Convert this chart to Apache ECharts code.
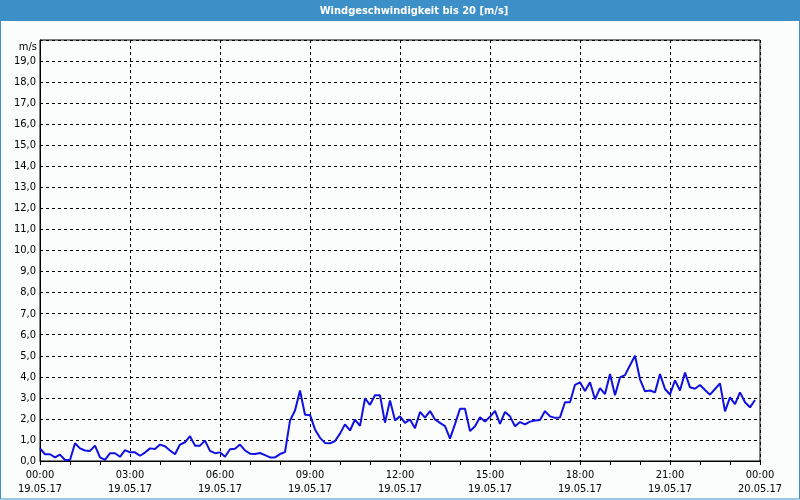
<!DOCTYPE html>
<html>
<head>
<meta charset="utf-8">
<script src="https://cdn.jsdelivr.net/npm/echarts@6/dist/echarts.min.js"></script>
<style>
html,body{margin:0;padding:0;background:#fbfcfc;}
#chart{width:800px;height:500px;}
</style>
</head>
<body>
<div id="chart"></div>
<script>
const titleText = 'Windgeschwindigkeit bis 20 [m/s]';
const unitLabel = 'm/s';
const stepMinutes = 10;
const xTickTimes = ['00:00','03:00','06:00','09:00','12:00','15:00','18:00','21:00','00:00'];
const xTickDates = ['19.05.17','19.05.17','19.05.17','19.05.17','19.05.17','19.05.17','19.05.17','19.05.17','20.05.17'];
const windSpeed = [
  0.6,0.32,0.32,0.17,0.3,0.05,0.05,0.84,0.6,0.5,0.48,0.73,0.17,0.05,0.37,0.37,0.2,0.52,0.41,0.41,0.25,
  0.4,0.6,0.57,0.78,0.7,0.5,0.32,0.78,0.89,1.18,0.73,0.73,0.97,0.48,0.37,0.41,0.2,0.56,0.58,0.78,
  0.5,0.35,0.33,0.38,0.28,0.17,0.17,0.33,0.42,1.92,2.4,3.35,2.2,2.19,1.5,1.1,0.86,0.84,0.95,1.3,1.74,
  1.45,1.97,1.67,2.97,2.67,3.12,3.12,1.82,2.88,1.93,2.12,1.81,1.97,1.56,2.33,2.06,2.37,1.97,1.81,1.66,
  1.06,1.75,2.48,2.48,1.42,1.65,2.08,1.88,2.1,2.38,1.76,2.33,2.12,1.65,1.85,1.74,1.87,1.92,1.95,2.37,2.12,
  2.05,2.07,2.79,2.79,3.62,3.74,3.32,3.74,2.93,3.46,3.18,4.13,3.12,3.97,4.08,4.55,5.0,3.88,3.31,3.35,
  3.26,4.13,3.42,3.16,3.83,3.35,4.2,3.5,3.43,3.61,3.37,3.15,3.42,3.69,2.36,3.02,2.7,3.26,2.79,2.55,2.9
];

const FONT = '"DejaVu Sans Condensed", "DejaVu Sans", sans-serif';
const chart = echarts.init(document.getElementById('chart'), null, {renderer: 'canvas'});
chart.setOption({
  backgroundColor: '#fbfcfc',
  animation: false,
  grid: {left: 40, right: 40, top: 40, bottom: 39, show: true, borderColor: '#000', borderWidth: 1, backgroundColor: 'transparent'},
  graphic: [
    {type: 'rect', left: 0, top: 0, shape: {width: 800, height: 21}, style: {fill: '#3d8fc8'}, z: 0},
    {type: 'text', x: 414, y: 11, style: {text: titleText, fill: '#ffffff', font: 'bold 11px ' + FONT, align: 'center', verticalAlign: 'middle'}, z: 10},
    {type: 'text', x: 37, y: 47, style: {text: unitLabel, fill: '#000', font: '11px ' + FONT, align: 'right', verticalAlign: 'middle'}, z: 10},
    {type: 'rect', shape: {x: 0.5, y: 0.5, width: 799, height: 498.5}, style: {fill: 'none', stroke: '#3d8fc8', lineWidth: 1}, z: 20}
  ],
  xAxis: {
    type: 'value', min: 0, max: 1440, interval: 180,
    axisLine: {show: true, lineStyle: {color: '#000', width: 1}},
    axisTick: {show: true, length: 4, lineStyle: {color: '#000'}},
    minorTick: {show: true, splitNumber: 3, length: 4, lineStyle: {color: '#000'}},
    splitLine: {show: true, lineStyle: {color: '#000', type: [3, 3], width: 1}},
    axisLabel: {
      margin: 7, color: '#000', fontFamily: FONT, fontSize: 11, lineHeight: 14,
      formatter: v => { const k = Math.round(v / 180); return xTickTimes[k] + '\n' + xTickDates[k]; }
    }
  },
  yAxis: {
    type: 'value', min: 0, max: 20, interval: 1,
    axisLine: {show: true, lineStyle: {color: '#000', width: 1}},
    axisTick: {show: false},
    splitLine: {show: true, lineStyle: {color: '#000', type: [3, 3], width: 1}},
    axisLabel: {
      margin: 4, color: '#000', fontFamily: FONT, fontSize: 11,
      formatter: v => v >= 20 ? '' : v.toFixed(1).replace('.', ',')
    }
  },
  series: [{
    type: 'line',
    data: windSpeed.map((v, i) => [i * stepMinutes, v]),
    showSymbol: false,
    lineStyle: {color: '#1010e0', width: 2},
    itemStyle: {color: '#1010e0'}
  }]
});
</script>
</body>
</html>
